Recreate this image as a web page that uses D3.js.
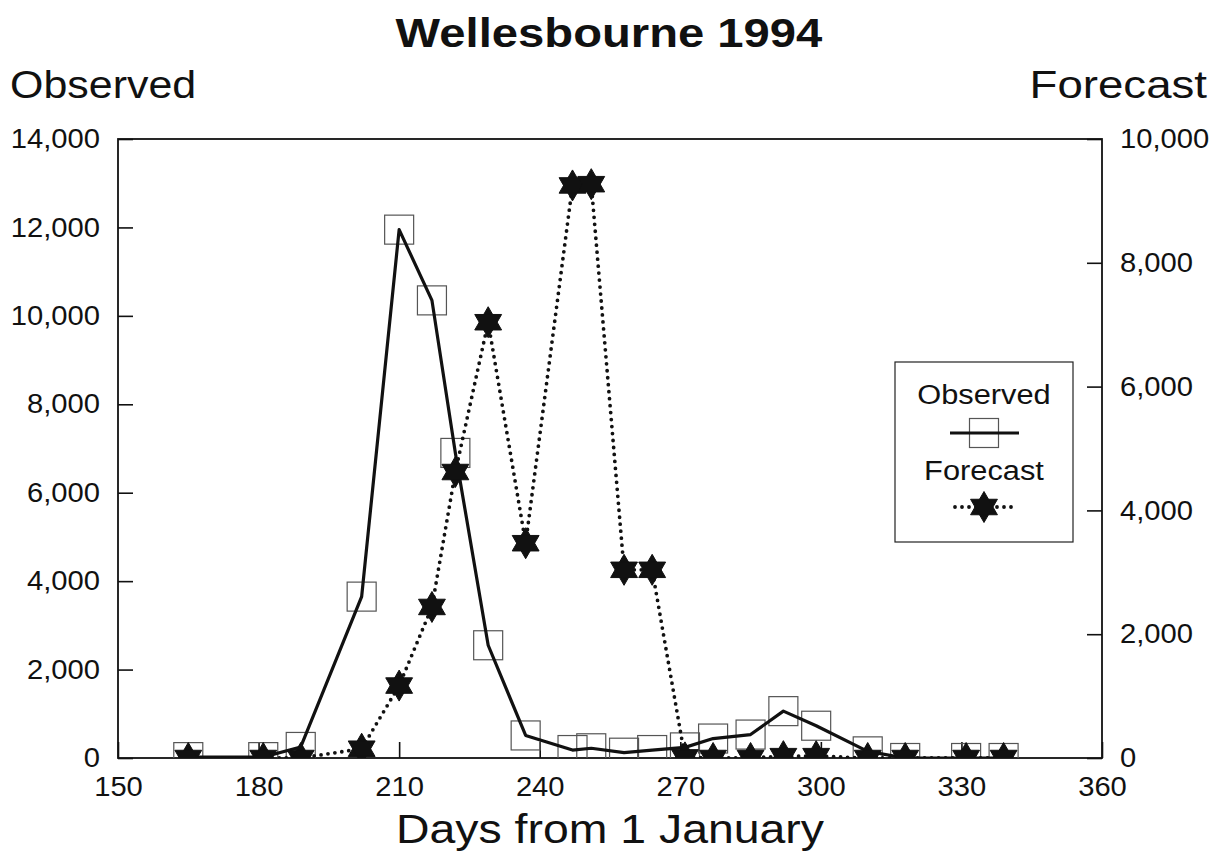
<!DOCTYPE html>
<html>
<head>
<meta charset="utf-8">
<script src="https://cdn.jsdelivr.net/npm/d3@7/dist/d3.min.js"></script>
<style>
  html, body { margin: 0; padding: 0; background: #fff; }
  svg text { font-family: Arial, "Liberation Sans", Helvetica, sans-serif; fill: #111; }
</style>
</head>
<body>
<svg id="chart" width="1218" height="856"></svg>
<script>
// Sampling days (days from 1 January 1994)
const days = [165, 181, 189, 202, 210, 217, 222, 229, 237, 247, 251, 258, 264, 271, 277, 285, 292, 299, 310, 318, 331, 339];
// Observed counts (left axis)
const observed = [20, 20, 250, 3650, 11950, 10350, 6900, 2550, 510, 180, 220, 120, 180, 240, 440, 530, 1060, 730, 150, 0, 0, 0];
// Forecast counts (right axis)
const forecast = [0, 0, 0, 150, 1170, 2440, 4620, 7040, 3470, 9250, 9270, 3040, 3040, 10, 0, 0, 30, 30, 0, 0, 0, 0];

const xTicks = [150, 180, 210, 240, 270, 300, 330, 360];
const yLeftTicks = [0, 2000, 4000, 6000, 8000, 10000, 12000, 14000];
const yRightTicks = [0, 2000, 4000, 6000, 8000, 10000];

const titleText = "Wellesbourne 1994";
const leftAxisTitle = "Observed";
const rightAxisTitle = "Forecast";
const xAxisTitle = "Days from 1 January";
const legendLabels = ["Observed", "Forecast"];

const svg = d3.select("#chart");
const plot = { left: 118, right: 1102, top: 139, bottom: 758 };

const x = d3.scaleLinear().domain([150, 360]).range([plot.left, plot.right]);
const yL = d3.scaleLinear().domain([0, 14000]).range([plot.bottom, plot.top]);
const yR = d3.scaleLinear().domain([0, 10000]).range([plot.bottom, plot.top]);
const fmt = d3.format(",");

// Widen glyphs horizontally (the lettering is a broad sans face)
function widen(sel, k) {
  sel.each(function () {
    const len = this.getComputedTextLength();
    d3.select(this).attr("textLength", len * k).attr("lengthAdjust", "spacingAndGlyphs");
  });
}

// Clip marks to the plotting area
svg.append("defs").append("clipPath").attr("id", "plot-clip")
  .append("rect")
  .attr("x", plot.left).attr("y", plot.top)
  .attr("width", plot.right - plot.left).attr("height", plot.bottom - plot.top);

// Axes with inward ticks
const gx = svg.append("g").attr("transform", `translate(0,${plot.bottom})`)
  .call(d3.axisBottom(x).tickValues(xTicks).tickFormat(d3.format("d"))
    .tickSizeInner(-16).tickSizeOuter(0).tickPadding(19));
const gl = svg.append("g").attr("transform", `translate(${plot.left},0)`)
  .call(d3.axisLeft(yL).tickValues(yLeftTicks).tickFormat(fmt)
    .tickSizeInner(-15).tickSizeOuter(0).tickPadding(18));
const gr = svg.append("g").attr("transform", `translate(${plot.right},0)`)
  .call(d3.axisRight(yR).tickValues(yRightTicks).tickFormat(fmt)
    .tickSizeInner(-15).tickSizeOuter(0).tickPadding(18));

[gx, gl, gr].forEach(g => {
  g.select(".domain").remove();
  g.selectAll(".tick line").attr("stroke", "#111").attr("stroke-width", 1.6);
  g.selectAll(".tick text").attr("font-size", 27).attr("fill", "#111")
    .style("font-family", 'Arial, "Liberation Sans", sans-serif');
  widen(g.selectAll(".tick text"), 1.08);
});

// Plot frame
svg.append("rect")
  .attr("x", plot.left).attr("y", plot.top)
  .attr("width", plot.right - plot.left).attr("height", plot.bottom - plot.top)
  .attr("fill", "none").attr("stroke", "#111").attr("stroke-width", 1.8);

// Titles
const tTitle = svg.append("text").attr("x", 609).attr("y", 47).attr("text-anchor", "middle")
  .attr("font-size", 40).attr("font-weight", "bold").text(titleText);
const tLeft = svg.append("text").attr("x", 10).attr("y", 98).attr("text-anchor", "start")
  .attr("font-size", 38).text(leftAxisTitle);
const tRight = svg.append("text").attr("x", 1207).attr("y", 98).attr("text-anchor", "end")
  .attr("font-size", 38).text(rightAxisTitle);
const tX = svg.append("text").attr("x", 610).attr("y", 843).attr("text-anchor", "middle")
  .attr("font-size", 40).text(xAxisTitle);
widen(tTitle, 1.18);
widen(tLeft, 1.13);
widen(tRight, 1.2);
widen(tX, 1.16);

// Six-pointed star symbol (two overlapping triangles)
function hexagram(r) {
  const tri = (rot) => d3.range(3).map(i => {
    const a = rot + i * 2 * Math.PI / 3;
    return [r * Math.sin(a), -r * Math.cos(a)];
  });
  const p = d3.path();
  [tri(0), tri(Math.PI)].forEach(t => {
    p.moveTo(t[0][0], t[0][1]); p.lineTo(t[1][0], t[1][1]); p.lineTo(t[2][0], t[2][1]); p.closePath();
  });
  return p.toString();
}

const marks = svg.append("g").attr("clip-path", "url(#plot-clip)");
const obsData = days.map((d, i) => ({ d, v: observed[i] }));
const fcData = days.map((d, i) => ({ d, v: forecast[i] }));

// Observed: hollow squares
const sq = 29;
marks.selectAll("rect.obs").data(obsData).join("rect").attr("class", "obs")
  .attr("x", p => x(p.d) - sq / 2).attr("y", p => yL(p.v) - sq / 2)
  .attr("width", sq).attr("height", sq)
  .attr("fill", "none").attr("stroke", "#555").attr("stroke-width", 1.2);

// Observed: solid line
marks.append("path").datum(obsData)
  .attr("d", d3.line().x(p => x(p.d)).y(p => yL(p.v)))
  .attr("fill", "none").attr("stroke", "#111").attr("stroke-width", 3.2)
  .attr("stroke-linejoin", "round");

// Forecast: dotted line
marks.append("path").datum(fcData)
  .attr("d", d3.line().x(p => x(p.d)).y(p => yR(p.v)))
  .attr("fill", "none").attr("stroke", "#111").attr("stroke-width", 3.8)
  .attr("stroke-linecap", "round").attr("stroke-dasharray", "0,7");

// Forecast: filled stars
const starPath = hexagram(15.5);
marks.selectAll("path.fc").data(fcData).join("path").attr("class", "fc")
  .attr("transform", p => `translate(${x(p.d)},${yR(p.v)})`)
  .attr("d", starPath).attr("fill", "#111").attr("stroke", "#111").attr("stroke-width", 1);

// Legend
const lg = svg.append("g");
lg.append("rect").attr("x", 895).attr("y", 362).attr("width", 178).attr("height", 180)
  .attr("fill", "#fff").attr("stroke", "#222").attr("stroke-width", 1.2);
const l1 = lg.append("text").attr("x", 984).attr("y", 404).attr("text-anchor", "middle")
  .attr("font-size", 27).text(legendLabels[0]);
lg.append("rect").attr("x", 984 - sq / 2).attr("y", 433 - sq / 2).attr("width", sq).attr("height", sq)
  .attr("fill", "none").attr("stroke", "#555").attr("stroke-width", 1.2);
lg.append("line").attr("x1", 950).attr("x2", 1019).attr("y1", 433).attr("y2", 433)
  .attr("stroke", "#111").attr("stroke-width", 3.2);
const l2 = lg.append("text").attr("x", 984).attr("y", 480).attr("text-anchor", "middle")
  .attr("font-size", 27).text(legendLabels[1]);
widen(l1, 1.14);
widen(l2, 1.14);
lg.append("line").attr("x1", 955).attr("x2", 1014).attr("y1", 507).attr("y2", 507)
  .attr("stroke", "#111").attr("stroke-width", 3.8).attr("stroke-linecap", "round")
  .attr("stroke-dasharray", "0,7");
lg.append("path").attr("transform", "translate(984,507)").attr("d", starPath)
  .attr("fill", "#111").attr("stroke", "#111").attr("stroke-width", 1);
</script>
</body>
</html>
